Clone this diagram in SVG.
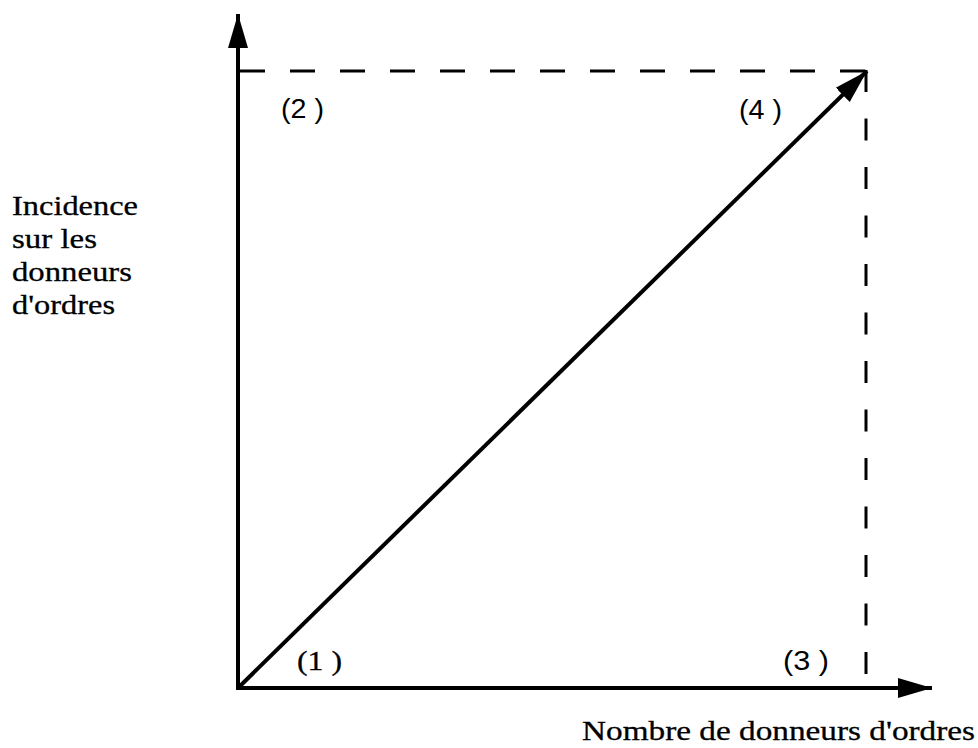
<svg xmlns="http://www.w3.org/2000/svg" width="978" height="748" viewBox="0 0 978 748">
<style>
.axis{stroke:#000;stroke-width:4;fill:none}
.dash{stroke:#000;stroke-width:3;fill:none}
.serif{font-family:"Liberation Serif","Times New Roman",serif;font-size:27px;fill:#000;stroke:#000;stroke-width:0.3}
.sans{font-family:"Liberation Sans",Arial,sans-serif;font-size:27px;fill:#000}
.num{font-family:"Liberation Serif","Times New Roman",serif;font-size:28px;fill:#000;stroke:#000;stroke-width:0.3}
</style>
<defs>
<marker id="ah" markerUnits="userSpaceOnUse" markerWidth="36" markerHeight="22" refX="34" refY="10" orient="auto" viewBox="0 0 36 20">
<path d="M0,0 L34,10 L0,20 Z" fill="#000"/>
</marker>
</defs>
<rect width="978" height="748" fill="#fff"/>
<g id="connectors">
<line class="axis" x1="238" y1="690" x2="238" y2="14" marker-end="url(#ah)"/>
<line class="axis" x1="236" y1="688" x2="932" y2="688" marker-end="url(#ah)"/>
<line class="axis" x1="238" y1="688" x2="867" y2="71" marker-end="url(#ah)"/>
<line class="dash" x1="240" y1="71" x2="867" y2="71" stroke-dasharray="25 25"/>
<line class="dash" x1="866" y1="70" x2="866" y2="688" stroke-dasharray="22 26.5"/>
</g>
<g id="labels">
<text class="sans" x="281" y="118" textLength="43" lengthAdjust="spacingAndGlyphs">(2 )</text>
<text class="sans" x="739" y="119" textLength="43" lengthAdjust="spacingAndGlyphs">(4 )</text>
<text class="num" x="297" y="670" textLength="45" lengthAdjust="spacingAndGlyphs">(1 )</text>
<text class="sans" x="783" y="670" textLength="46" lengthAdjust="spacingAndGlyphs">(3 )</text>
</g>
<g id="y-label">
<text class="serif" x="12" y="215" textLength="126" lengthAdjust="spacingAndGlyphs">Incidence</text>
<text class="serif" x="12" y="248" textLength="85" lengthAdjust="spacingAndGlyphs">sur les</text>
<text class="serif" x="12" y="281" textLength="120" lengthAdjust="spacingAndGlyphs">donneurs</text>
<text class="serif" x="12" y="314" textLength="103" lengthAdjust="spacingAndGlyphs">d'ordres</text>
</g>
<g id="x-label">
<text class="serif" x="582" y="740" textLength="393" lengthAdjust="spacingAndGlyphs">Nombre de donneurs d'ordres</text>
</g>
</svg>
